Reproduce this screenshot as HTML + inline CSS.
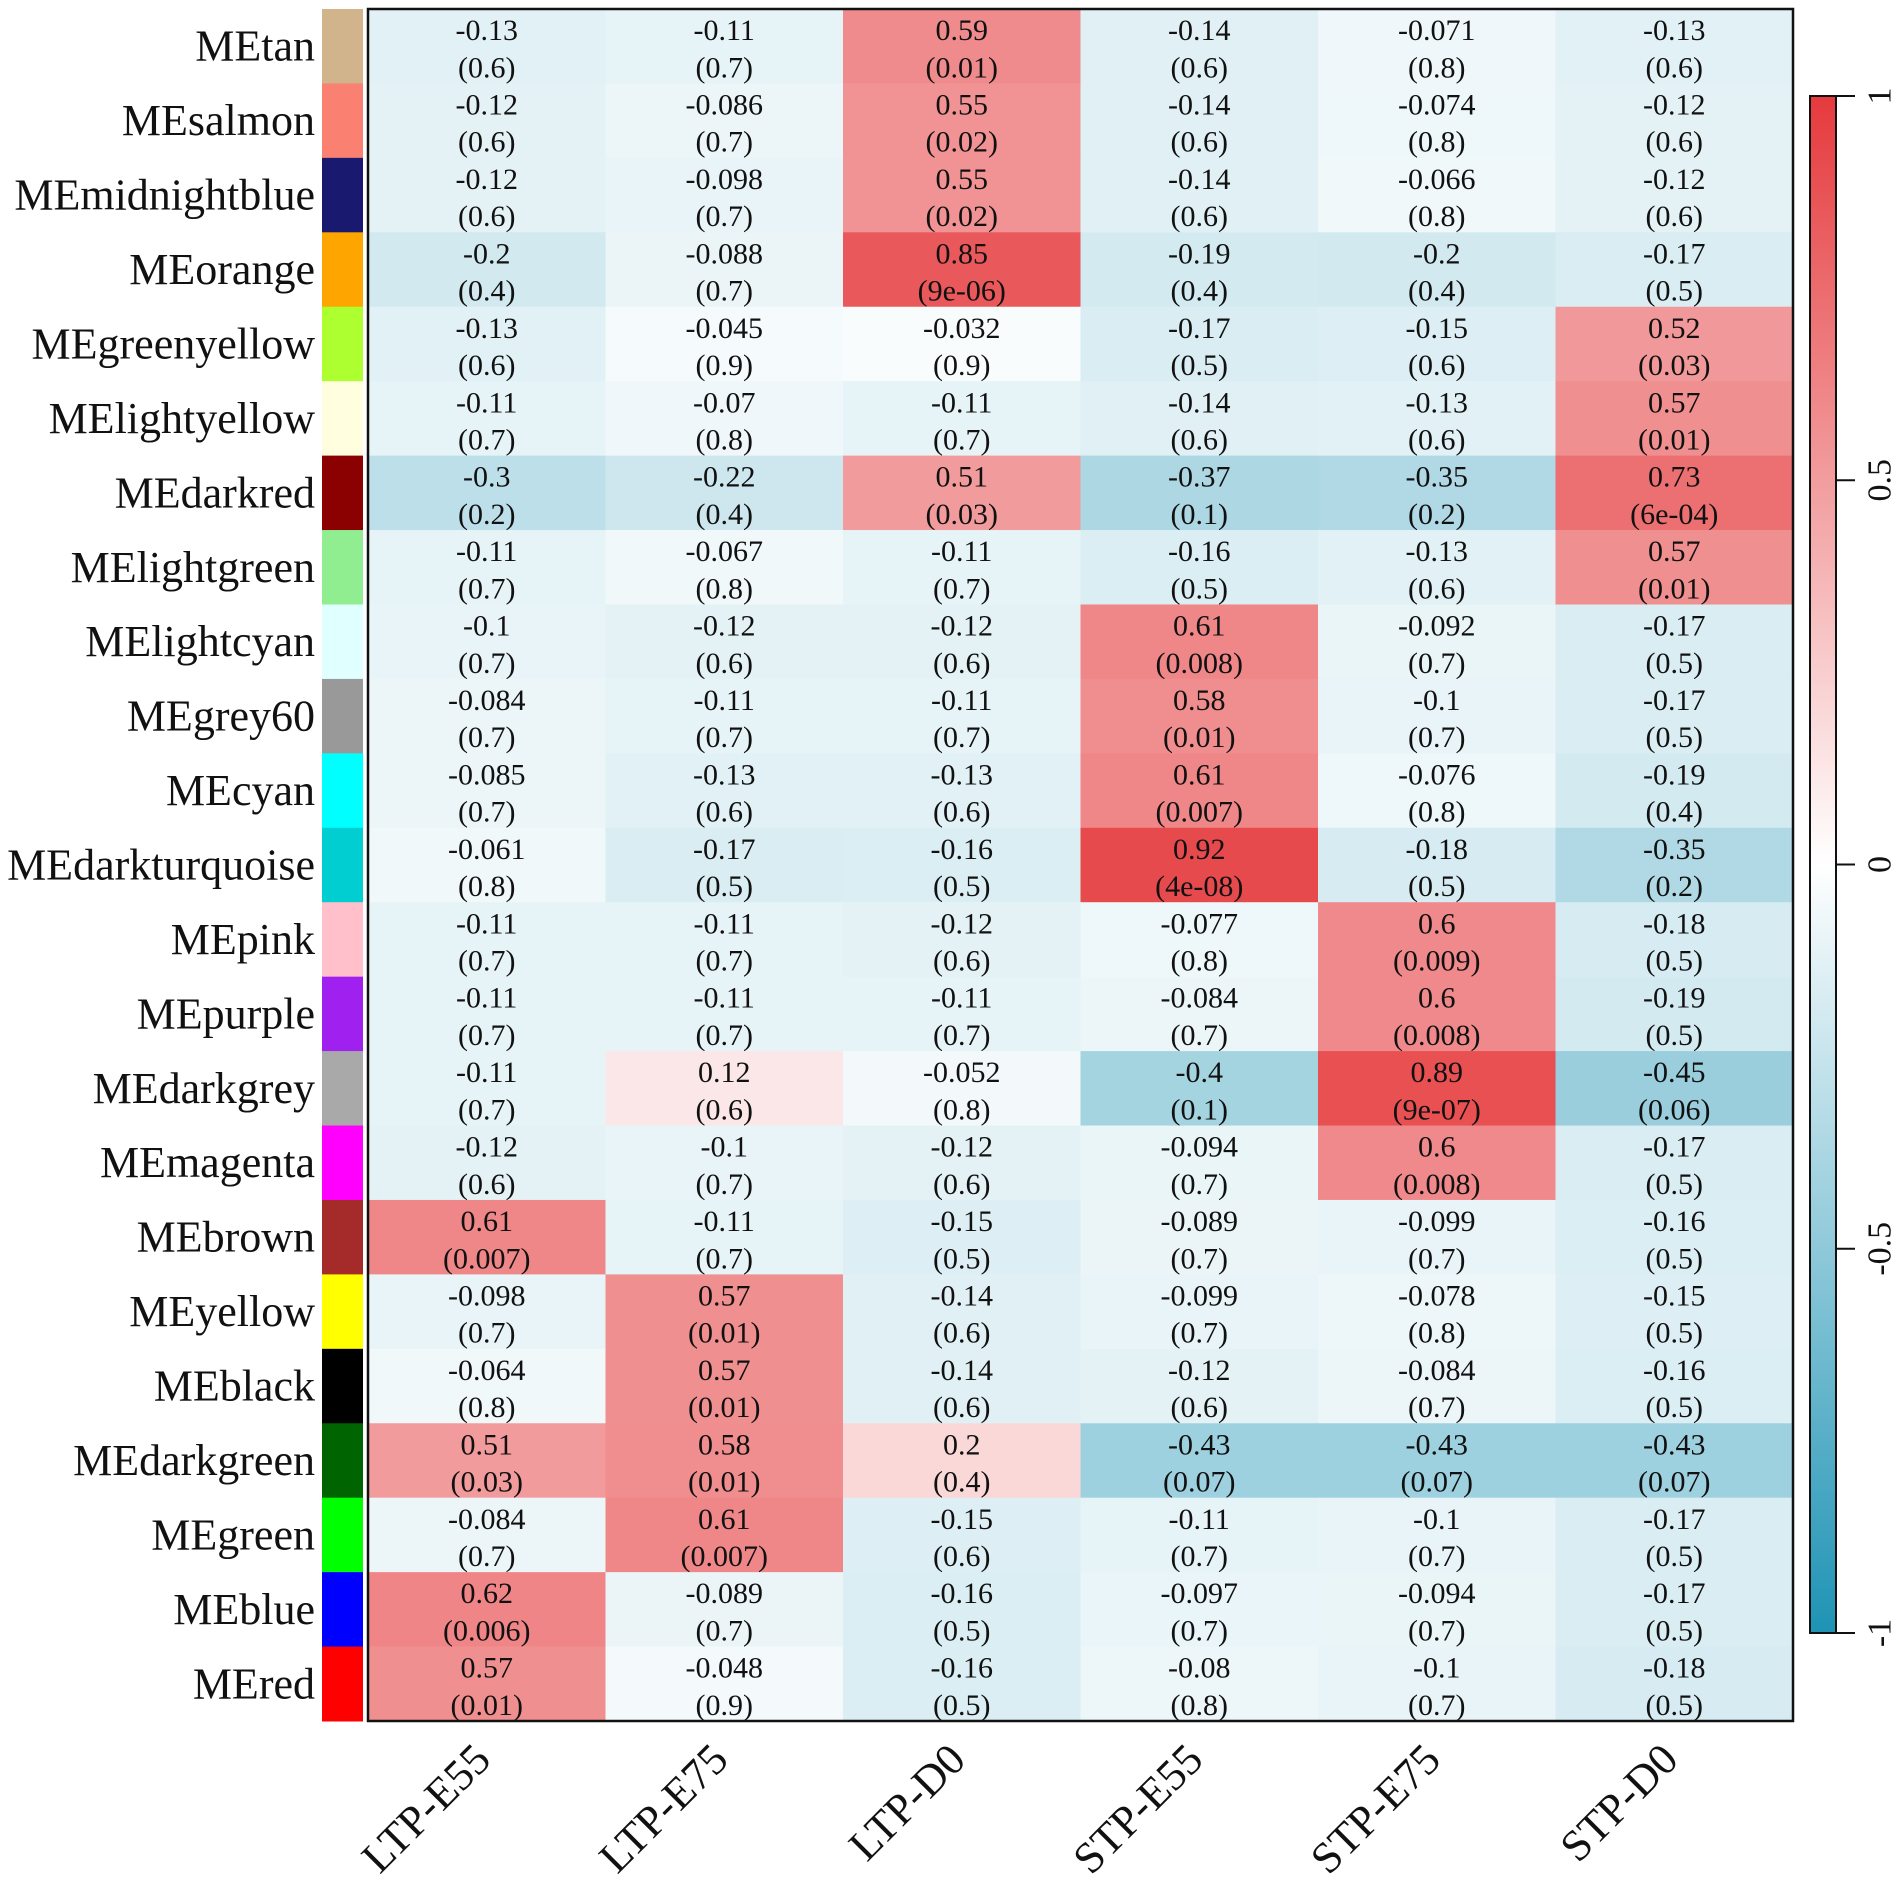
<!DOCTYPE html>
<html><head><meta charset="utf-8"><style>
html,body{margin:0;padding:0;background:#fff;}
svg{display:block;font-family:"Liberation Serif",serif;}
</style></head><body>
<svg id="chart" width="1902" height="1886" viewBox="0 0 1902 1886" xmlns="http://www.w3.org/2000/svg">
<defs><linearGradient id="lg" x1="0" y1="1" x2="0" y2="0">
<stop offset="0" stop-color="#1e93b4"/><stop offset="0.5" stop-color="#ffffff"/><stop offset="1" stop-color="#e53a3d"/></linearGradient></defs>
<g id="cells"></g><g id="rowlabels"></g><g id="collabels"></g>
<rect x="368" y="9" width="1425" height="1712" fill="none" stroke="#111" stroke-width="2.5"/>
<g id="legend">
<rect x="1810" y="96" width="26" height="1537" fill="url(#lg)" stroke="#111" stroke-width="2"/>
</g>
</svg>
<script>
const rows=["MEtan","MEsalmon","MEmidnightblue","MEorange","MEgreenyellow","MElightyellow","MEdarkred","MElightgreen","MElightcyan","MEgrey60","MEcyan","MEdarkturquoise","MEpink","MEpurple","MEdarkgrey","MEmagenta","MEbrown","MEyellow","MEblack","MEdarkgreen","MEgreen","MEblue","MEred"];
const swatches=["#d2b48c","#fa8072","#191970","#ffa500","#adff2f","#ffffe0","#8b0000","#90ee90","#e0ffff","#999999","#00ffff","#00ced1","#ffc0cb","#a020f0","#a9a9a9","#ff00ff","#a52a2a","#ffff00","#000000","#006400","#00ff00","#0000ff","#ff0000"];
const cols=["LTP-E55","LTP-E75","LTP-D0","STP-E55","STP-E75","STP-D0"];
const corr=[
[-0.13,-0.11,0.59,-0.14,-0.071,-0.13],
[-0.12,-0.086,0.55,-0.14,-0.074,-0.12],
[-0.12,-0.098,0.55,-0.14,-0.066,-0.12],
[-0.2,-0.088,0.85,-0.19,-0.2,-0.17],
[-0.13,-0.045,-0.032,-0.17,-0.15,0.52],
[-0.11,-0.07,-0.11,-0.14,-0.13,0.57],
[-0.3,-0.22,0.51,-0.37,-0.35,0.73],
[-0.11,-0.067,-0.11,-0.16,-0.13,0.57],
[-0.1,-0.12,-0.12,0.61,-0.092,-0.17],
[-0.084,-0.11,-0.11,0.58,-0.1,-0.17],
[-0.085,-0.13,-0.13,0.61,-0.076,-0.19],
[-0.061,-0.17,-0.16,0.92,-0.18,-0.35],
[-0.11,-0.11,-0.12,-0.077,0.6,-0.18],
[-0.11,-0.11,-0.11,-0.084,0.6,-0.19],
[-0.11,0.12,-0.052,-0.4,0.89,-0.45],
[-0.12,-0.1,-0.12,-0.094,0.6,-0.17],
[0.61,-0.11,-0.15,-0.089,-0.099,-0.16],
[-0.098,0.57,-0.14,-0.099,-0.078,-0.15],
[-0.064,0.57,-0.14,-0.12,-0.084,-0.16],
[0.51,0.58,0.2,-0.43,-0.43,-0.43],
[-0.084,0.61,-0.15,-0.11,-0.1,-0.17],
[0.62,-0.089,-0.16,-0.097,-0.094,-0.17],
[0.57,-0.048,-0.16,-0.08,-0.1,-0.18]];
const pvals=[
["0.6","0.7","0.01","0.6","0.8","0.6"],
["0.6","0.7","0.02","0.6","0.8","0.6"],
["0.6","0.7","0.02","0.6","0.8","0.6"],
["0.4","0.7","9e-06","0.4","0.4","0.5"],
["0.6","0.9","0.9","0.5","0.6","0.03"],
["0.7","0.8","0.7","0.6","0.6","0.01"],
["0.2","0.4","0.03","0.1","0.2","6e-04"],
["0.7","0.8","0.7","0.5","0.6","0.01"],
["0.7","0.6","0.6","0.008","0.7","0.5"],
["0.7","0.7","0.7","0.01","0.7","0.5"],
["0.7","0.6","0.6","0.007","0.8","0.4"],
["0.8","0.5","0.5","4e-08","0.5","0.2"],
["0.7","0.7","0.6","0.8","0.009","0.5"],
["0.7","0.7","0.7","0.7","0.008","0.5"],
["0.7","0.6","0.8","0.1","9e-07","0.06"],
["0.6","0.7","0.6","0.7","0.008","0.5"],
["0.007","0.7","0.5","0.7","0.7","0.5"],
["0.7","0.01","0.6","0.7","0.8","0.5"],
["0.8","0.01","0.6","0.6","0.7","0.5"],
["0.03","0.01","0.4","0.07","0.07","0.07"],
["0.7","0.007","0.6","0.7","0.7","0.5"],
["0.006","0.7","0.5","0.7","0.7","0.5"],
["0.01","0.9","0.5","0.8","0.7","0.5"]];
const legendTicks=[1,0.5,0,-0.5,-1];
const legendLabels=["1","0.5","0","-0.5","-1"];

const NS="http://www.w3.org/2000/svg";
const X0=368,Y0=9,W=1425,H=1712;
const cw=W/cols.length, rh=H/rows.length;
const xPos=i=>X0+i*cw, yPos=j=>Y0+j*rh;
const LT=96,LB=1633;
const yLeg=v=>LB-(v+1)/2*(LB-LT);
function color(v){
  const t=Math.min(1,Math.abs(v));
  const c=v>=0?[229,58,61]:[30,147,180];
  const m=c.map(k=>Math.round(255+(k-255)*t));
  return `rgb(${m[0]},${m[1]},${m[2]})`;
}
function mk(tag,attrs,parent,text){
  const e=document.createElementNS(NS,tag);
  for(const k in attrs)e.setAttribute(k,attrs[k]);
  if(text!==undefined)e.textContent=text;
  parent.appendChild(e);return e;
}
const gC=document.getElementById('cells'),gR=document.getElementById('rowlabels'),gX=document.getElementById('collabels'),gL=document.getElementById('legend');
rows.forEach((r,j)=>{
  cols.forEach((c,i)=>{
    const v=corr[j][i];
    const rc=mk('rect',{x:xPos(i),y:yPos(j),width:cw+0.5,height:rh+0.5,fill:color(v)},gC);
    
    
    const t1=mk('text',{x:xPos(i)+cw/2,y:yPos(j)+rh*0.29,'font-size':30,'text-anchor':'middle','dominant-baseline':'central',fill:'#111'},gC,String(v));
    
    
    const t2=mk('text',{x:xPos(i)+cw/2,y:yPos(j)+rh*0.79,'font-size':30,'text-anchor':'middle','dominant-baseline':'central',fill:'#111'},gC,'('+pvals[j][i]+')');
    
    
  });
  const sw=mk('rect',{x:322,y:yPos(j),width:41,height:rh+0.5,fill:swatches[j]},gR);
  
  
  const lb=mk('text',{x:315,y:yPos(j)+rh/2,'font-size':44,'text-anchor':'end','dominant-baseline':'central',fill:'#111'},gR,r);
  
  
});
cols.forEach((c,i)=>{
  const x=xPos(i)+cw/2+6,y=1762;
  const t=mk('text',{x:x,y:y,'font-size':44,'text-anchor':'end',transform:`rotate(-45 ${x} ${y})`,fill:'#111'},gX,c);
  
  
});
legendTicks.forEach((v,k)=>{
  const y=yLeg(v);
  const l=mk('line',{x1:1836,x2:1855,y1:y,y2:y,stroke:'#111','stroke-width':2},gL);
  
  
  const t=mk('text',{x:1880,y:y,'font-size':34,'text-anchor':'middle','dominant-baseline':'central',transform:`rotate(-90 1880 ${y})`,fill:'#111'},gL,legendLabels[k]);
  
  
});
</script>
</body></html>
